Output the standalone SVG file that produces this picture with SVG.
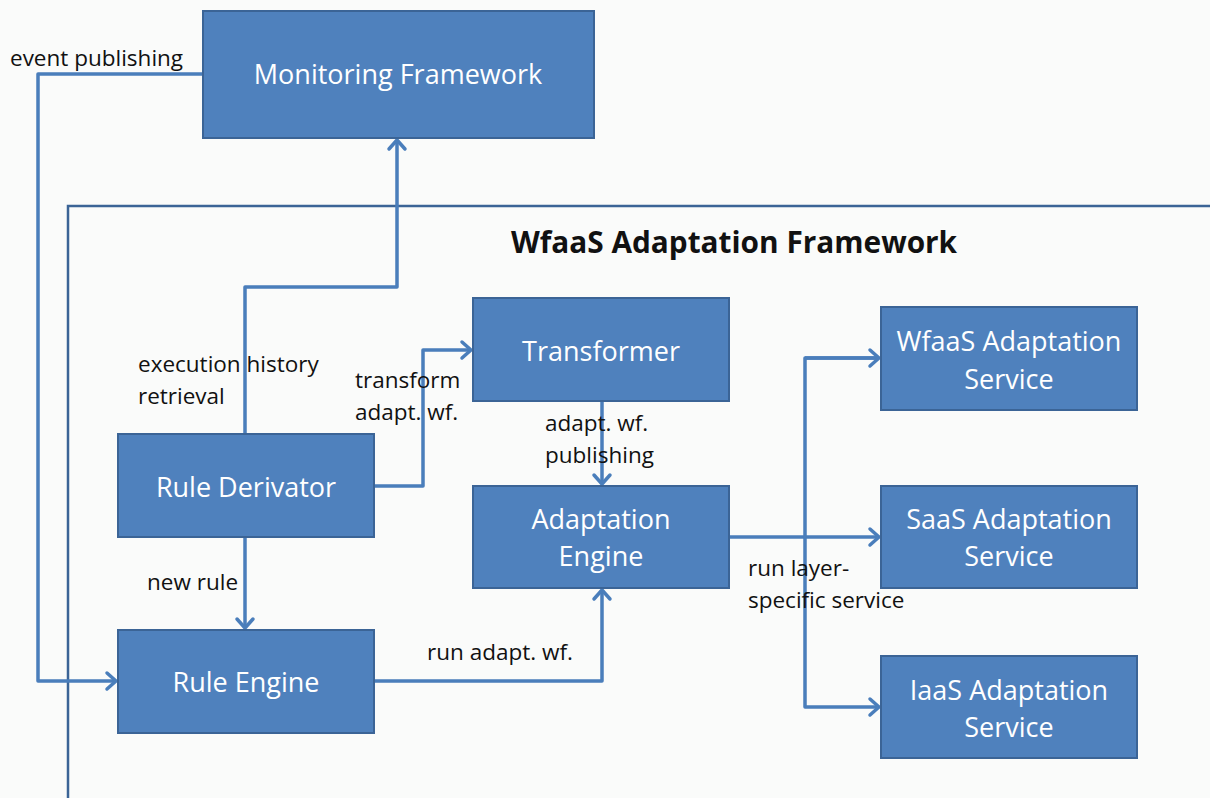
<svg xmlns="http://www.w3.org/2000/svg" width="1210" height="798" viewBox="0 0 1210 798">
<style>
.node rect{fill:#4f81bd;stroke:#3b6496;stroke-width:2}
.nt{font-family:"Open Sans","Liberation Sans",sans-serif;font-size:27px;fill:#ffffff;text-anchor:middle}
.lb{font-family:"Open Sans","Liberation Sans",sans-serif;font-size:22.5px;fill:#111111}
.conn path{fill:none;stroke:#4a7ebb;stroke-width:3.5;stroke-linejoin:round}
</style>
<defs>
<marker id="arr" markerUnits="userSpaceOnUse" markerWidth="30" markerHeight="30" refX="15" refY="15" orient="auto" viewBox="0 0 30 30">
<path d="M6,7 L15,15 L6,23" fill="none" stroke="#4a7ebb" stroke-width="3.5" stroke-linecap="round" stroke-linejoin="round"/>
</marker>
</defs>
<rect width="1210" height="798" fill="#fafbfa"/>
<g id="frame">
<path d="M68,798 V206 H1212" fill="none" stroke="#3b6496" stroke-width="2.5"/>
<text x="734" y="253" font-family="Open Sans, Liberation Sans, sans-serif" font-size="29.8" font-weight="bold" fill="#111" text-anchor="middle">WfaaS Adaptation Framework</text>
</g>
<g class="conn" id="connectors">
<path d="M203,74 H38 V681 H116" marker-end="url(#arr)"/>
<path d="M245,434 V287 H397 V140" marker-end="url(#arr)"/>
<path d="M374,486 H423 V350 H471" marker-end="url(#arr)"/>
<path d="M602,402 V484" marker-end="url(#arr)"/>
<path d="M245,537 V628" marker-end="url(#arr)"/>
<path d="M374,681 H602 V590" marker-end="url(#arr)"/>
<path d="M729,537 H879" marker-end="url(#arr)"/>
<path d="M879,358 H805 V707 H879" marker-end="url(#arr)"/>
<path d="M805,358 H879" marker-end="url(#arr)"/>
</g>
<g id="labels">
<text class="lb" x="10" y="66">event publishing</text>
<text class="lb" x="138" y="372">execution history</text>
<text class="lb" x="138" y="404">retrieval</text>
<text class="lb" x="355" y="388">transform</text>
<text class="lb" x="355" y="420">adapt. wf.</text>
<text class="lb" x="545" y="431">adapt. wf.</text>
<text class="lb" x="545" y="463">publishing</text>
<text class="lb" x="147" y="590">new rule</text>
<text class="lb" x="427" y="660">run adapt. wf.</text>
<text class="lb" x="748" y="576">run layer-</text>
<text class="lb" x="748" y="608">specific service</text>
</g>
<g id="monitoring" class="node"><rect x="203" y="11" width="391" height="127"/><text class="nt" x="398" y="84">Monitoring Framework</text></g>
<g id="rule-derivator" class="node"><rect x="118" y="434" width="256" height="103"/><text class="nt" x="246" y="497">Rule Derivator</text></g>
<g id="rule-engine" class="node"><rect x="118" y="630" width="256" height="103"/><text class="nt" x="246" y="692">Rule Engine</text></g>
<g id="transformer" class="node"><rect x="473" y="298" width="256" height="103"/><text class="nt" x="601" y="361">Transformer</text></g>
<g id="adaptation-engine" class="node"><rect x="473" y="486" width="256" height="102"/><text class="nt" x="601" y="529">Adaptation</text><text class="nt" x="601" y="566">Engine</text></g>
<g id="wfaas-service" class="node"><rect x="881" y="307" width="256" height="103"/><text class="nt" x="1009" y="351">WfaaS Adaptation</text><text class="nt" x="1009" y="389">Service</text></g>
<g id="saas-service" class="node"><rect x="881" y="486" width="256" height="102"/><text class="nt" x="1009" y="529">SaaS Adaptation</text><text class="nt" x="1009" y="566">Service</text></g>
<g id="iaas-service" class="node"><rect x="881" y="656" width="256" height="102"/><text class="nt" x="1009" y="700">IaaS Adaptation</text><text class="nt" x="1009" y="737">Service</text></g>
</svg>
